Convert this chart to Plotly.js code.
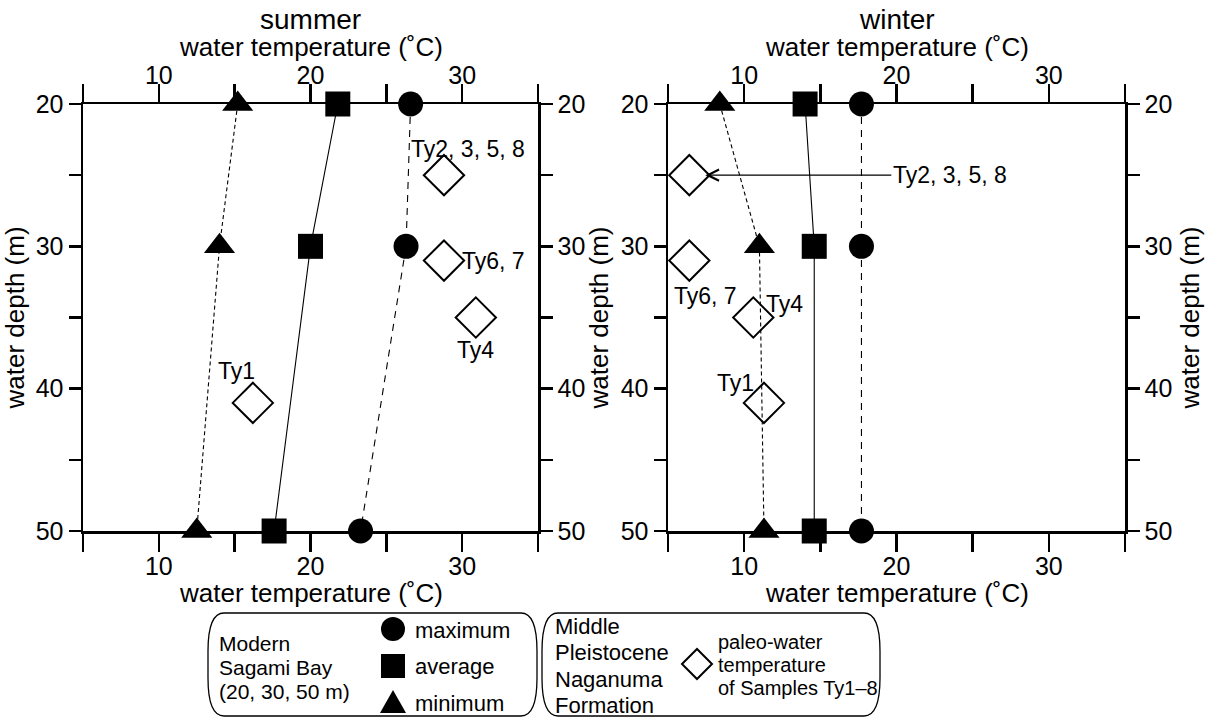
<!DOCTYPE html>
<html><head><meta charset="utf-8">
<script src="https://cdn.plot.ly/plotly-3.0.1.min.js"></script>
<style>html,body{margin:0;padding:0;background:#fff}#chart{width:1213px;height:717px}</style>
</head><body><div id="chart"></div>
<script>
// ---- data ----
const depths = [20, 30, 50];
const summerMax = [26.6, 26.3, 23.3];
const summerAvg = [21.8, 20.0, 17.6];
const summerMin = [15.2, 14.0, 12.5];
const winterMax = [17.7, 17.7, 17.7];
const winterAvg = [14.0, 14.6, 14.6];
const winterMin = [8.4, 11.0, 11.3];
const sampleLabels = ["Ty2, 3, 5, 8", "Ty6, 7", "Ty4", "Ty1"];
const sampleDepths = [25, 31, 35, 41];
const summerSample = [28.8, 28.8, 30.9, 16.2];
const winterSample = [6.4, 6.4, 10.6, 11.3];
const tempTicks = [5, 10, 15, 20, 25, 30, 35];
const tempTickText = ["", "10", "", "20", "", "30", ""];
const depthTicks = [20, 25, 30, 35, 40, 45, 50];
const depthTickText = ["20", "", "30", "", "40", "", "50"];
const panelTitles = ["summer", "winter"];
const tempTitle = "water temperature (˚C)";
const depthTitle = "water depth (m)";
const legendModern = ["Modern", "Sagami Bay", "(20, 30, 50 m)"];
const legendStats = ["maximum", "average", "minimum"];
const legendFormation = ["Middle", "Pleistocene", "Naganuma", "Formation"];
const legendPaleo = ["paleo-water", "temperature", "of Samples Ty1–8"];

// ---- layout helpers ----
const W = 1213, H = 717;
const px = v => v / W, py = v => 1 - v / H;
const FONT = "Liberation Sans, Arial, sans-serif";
const yTop = 104, yBot = 531;
const panels = [[83, 538], [668, 1125]];

function lineTraces(xs, ys, xa, ya, sym, dash) {
  return {
    x: xs, y: ys, xaxis: xa, yaxis: ya, type: "scatter", mode: "lines+markers",
    cliponaxis: false, showlegend: false, hoverinfo: "skip",
    line: {color: "black", width: 1.1, dash: dash},
    marker: {symbol: sym, size: sym === "triangle-up" ? 27 : 25, color: "black", line: {width: 0}}
  };
}
const data = [];
[[summerMax, summerAvg, summerMin, summerSample, "x", "y", "x3", "y3"],
 [winterMax, winterAvg, winterMin, winterSample, "x2", "y2", "x4", "y4"]].forEach(p => {
  // invisible trace so that the top / right mirror axes are drawn
  data.push({x: [5, 35], y: [20, 50], xaxis: p[6], yaxis: p[7], type: "scatter", mode: "markers",
    marker: {opacity: 0}, showlegend: false, hoverinfo: "skip"});
  data.push(lineTraces(p[0], depths, p[4], p[5], "circle", "7px,6px"));
  data.push(lineTraces(p[1], depths, p[4], p[5], "square", "solid"));
  data.push(lineTraces(p[2], depths, p[4], p[5], "triangle-up", "4px,3px"));
  data.push({
    x: p[3], y: sampleDepths, xaxis: p[4], yaxis: p[5], type: "scatter", mode: "markers",
    cliponaxis: false, showlegend: false, hoverinfo: "skip",
    marker: {symbol: "diamond-open", size: 31, color: "black", line: {width: 2, color: "black"}}
  });
});

function xAx(i, side) {
  const d = panels[i];
  return {
    domain: [px(d[0]), px(d[1])], range: [5, 35], side: side,
    tickmode: "array", tickvals: tempTicks, ticktext: tempTickText,
    ticks: "outside", ticklen: 18, tickwidth: 2.5, tickcolor: "black",
    ticklabelstandoff: side === "top" ? -10 : -7,
    showline: true, linewidth: 2.5, linecolor: "black",
    showgrid: false, zeroline: false, fixedrange: true,
    tickfont: {family: FONT, size: 25, color: "black"}
  };
}
function yAx(i, side, withTitle) {
  return {
    domain: [py(yBot), py(yTop)], range: [50, 20], side: side,
    tickmode: "array", tickvals: depthTicks, ticktext: depthTickText,
    ticks: "outside", ticklen: 12, tickwidth: 2.5, tickcolor: "black",
    showline: true, linewidth: 2.5, linecolor: "black",
    showgrid: false, zeroline: false, fixedrange: true,
    tickfont: {family: FONT, size: 25, color: "black"},
    title: {text: withTitle ? depthTitle : "", font: {family: FONT, size: 26, color: "black"},
            standoff: side === "left" ? 5 : 10}
  };
}

const layout = {
  width: W, height: H, margin: {l: 0, r: 0, t: 0, b: 0},
  paper_bgcolor: "white", plot_bgcolor: "rgba(0,0,0,0)",
  font: {family: FONT, color: "black"},
  showlegend: false,
  xaxis: Object.assign(xAx(0, "bottom"), {anchor: "y"}),
  yaxis: Object.assign(yAx(0, "left", true), {anchor: "x"}),
  xaxis3: Object.assign(xAx(0, "top"), {anchor: "y3", overlaying: "x"}),
  yaxis3: Object.assign(yAx(0, "right", false), {anchor: "x3", overlaying: "y"}),
  xaxis2: Object.assign(xAx(1, "bottom"), {anchor: "y2"}),
  yaxis2: Object.assign(yAx(1, "left", true), {anchor: "x2"}),
  xaxis4: Object.assign(xAx(1, "top"), {anchor: "y4", overlaying: "x2"}),
  yaxis4: Object.assign(yAx(1, "right", true), {anchor: "x4", overlaying: "y2"}),
  annotations: [], shapes: []
};

// panel titles and x-axis titles (top and bottom)
panelTitles.forEach((t, i) => {
  const cx = px((panels[i][0] + panels[i][1]) / 2);
  layout.annotations.push({
    text: t, xref: "paper", yref: "paper", x: cx, y: py(19),
    xanchor: "center", yanchor: "middle", showarrow: false,
    font: {family: FONT, size: 28, color: "black"}
  });
  [47, 593].forEach(yy => layout.annotations.push({
    text: tempTitle, xref: "paper", yref: "paper", x: cx, y: py(yy),
    xanchor: "center", yanchor: "middle", showarrow: false,
    font: {family: FONT, size: 26, color: "black"}
  }));
});

// sample labels (offsets in pixels)
const SL = 23;
const lab = (xr, yr, x, y, t, xs, ys, xanchor) => layout.annotations.push({
  text: t, xref: xr, yref: yr, x: x, y: y, xshift: xs, yshift: ys, xanchor: xanchor || "center",
  yanchor: "middle", showarrow: false, font: {family: FONT, size: SL, color: "black"}
});
lab("x", "y", summerSample[0], sampleDepths[0], sampleLabels[0], 24, 26);
lab("x", "y", summerSample[1], sampleDepths[1], sampleLabels[1], 16, 0, "left");
lab("x", "y", summerSample[2], sampleDepths[2], sampleLabels[2], 0, -33);
lab("x", "y", summerSample[3], sampleDepths[3], sampleLabels[3], -16, 32);
lab("x2", "y2", winterSample[1], sampleDepths[1], sampleLabels[1], 16, -35);
lab("x2", "y2", winterSample[2], sampleDepths[2], sampleLabels[2], 11, 13, "left");
lab("x2", "y2", winterSample[3], sampleDepths[3], sampleLabels[3], -28, 20);
layout.annotations.push({
  text: sampleLabels[0], xref: "x2", yref: "y2", x: winterSample[0], y: sampleDepths[0],
  axref: "x2", ayref: "y2", ax: 23.5, ay: sampleDepths[0],
  showarrow: true, arrowhead: 5, arrowsize: 1.7, arrowwidth: 1.3, arrowcolor: "black", standoff: 16,
  font: {family: FONT, size: SL, color: "black"}
});

// legend boxes
function rr(x0, y0, x1, y1, rx, ry) {
  const P = (x, y) => px(x) + "," + py(y);
  return "M" + P(x0 + rx, y0) + " L" + P(x1 - rx, y0) + " Q" + P(x1, y0) + " " + P(x1, y0 + ry) +
    " L" + P(x1, y1 - ry) + " Q" + P(x1, y1) + " " + P(x1 - rx, y1) + " L" + P(x0 + rx, y1) +
    " Q" + P(x0, y1) + " " + P(x0, y1 - ry) + " L" + P(x0, y0 + ry) + " Q" + P(x0, y0) + " " + P(x0 + rx, y0) + " Z";
}
layout.shapes.push({type: "path", xref: "paper", yref: "paper", path: rr(208, 613, 537, 716, 16, 38), line: {color: "black", width: 1.3}});
layout.shapes.push({type: "path", xref: "paper", yref: "paper", path: rr(542, 613, 880, 716, 16, 38), line: {color: "black", width: 1.3}});

const ltxt = (t, x, y, fs) => layout.annotations.push({
  text: t, xref: "paper", yref: "paper", x: px(x), y: py(y), xanchor: "left", yanchor: "middle",
  showarrow: false, font: {family: FONT, size: fs, color: "black"}
});
legendModern.forEach((t, i) => ltxt(t, 217, [643, 667, 691][i], 21));
legendStats.forEach((t, i) => ltxt(t, 413, [630, 666, 703][i], 22));
legendFormation.forEach((t, i) => ltxt(t, 553, [626, 652, 679, 705][i], 22));
legendPaleo.forEach((t, i) => ltxt(t, 716, [642, 665, 688][i], 20));

// legend marker glyphs (pixel-sized shapes)
const pxShape = (type, cx, cy, extra) => layout.shapes.push(Object.assign({
  type: type, xref: "paper", yref: "paper", xsizemode: "pixel", ysizemode: "pixel",
  xanchor: px(cx), yanchor: py(cy)
}, extra));
pxShape("circle", 393, 629, {x0: -12, x1: 12, y0: -12, y1: 12, fillcolor: "black", line: {width: 0}});
pxShape("rect", 393, 666, {x0: -12, x1: 12, y0: -12, y1: 12, fillcolor: "black", line: {width: 0}});
pxShape("path", 393, 702, {path: "M-13,-11 L13,-11 L0,12 Z", fillcolor: "black", line: {width: 0}});
pxShape("path", 697, 664, {path: "M-15,0 L0,15 L15,0 L0,-15 Z", fillcolor: "rgba(0,0,0,0)", line: {color: "black", width: 2}});

Plotly.newPlot("chart", data, layout, {staticPlot: true});
</script>
</body></html>
